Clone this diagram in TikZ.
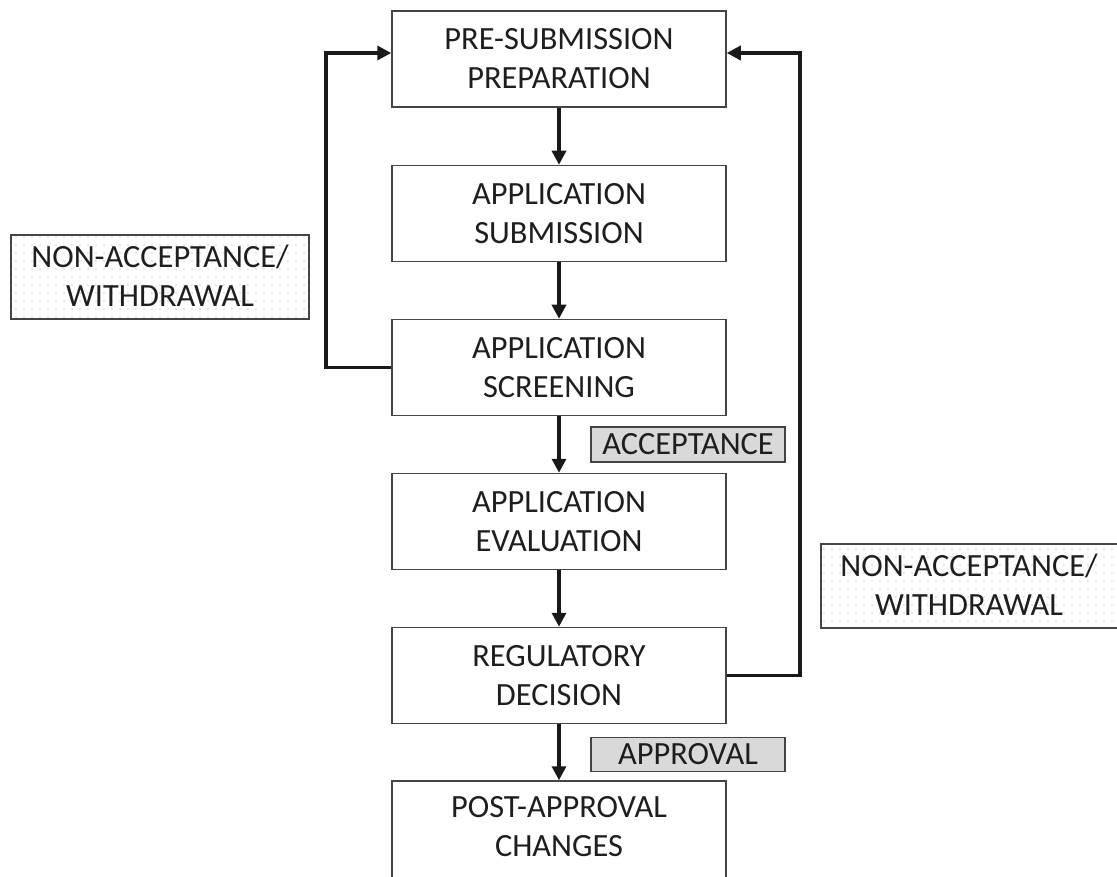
\documentclass[tikz,border=0pt]{standalone}
\usepackage{fontspec}
\setmainfont{Carlito}
\usetikzlibrary{arrows.meta,patterns.meta}
\definecolor{edge}{HTML}{454545}
\definecolor{ink}{HTML}{1E1E1E}
\definecolor{tag}{HTML}{D9D9D9}
\newcommand{\labelfont}{\fontsize{32.4}{39}\selectfont}
\tikzset{
  stage/.style={draw=edge, line width=1.5pt, fill=white, rectangle,
    minimum width=334pt, minimum height=96pt, inner sep=0pt,
    align=center, text=ink, font=\labelfont},
  txt/.style={align=center, text=ink, font=\labelfont, inner sep=0pt},
  tagbox/.style={draw=edge, line width=1.5pt, fill=tag, rectangle,
    minimum width=194pt, minimum height=35pt, inner sep=0pt,
    text=ink, font=\labelfont},
  dotbox/.style={draw=edge, line width=1.5pt, rectangle,
    pattern={Dots[distance=8pt, radius=0.6pt]}, pattern color=gray!75,
    minimum width=298pt, minimum height=84pt, inner sep=0pt},
  flow/.style={line width=3.4pt, draw=black!90,
    -{Triangle[length=14pt, width=14pt]}},
  loop/.style={line width=3.4pt, draw=black!90, line join=miter,
    -{Triangle[length=14pt, width=14pt]}},
}
\begin{document}
\begin{tikzpicture}[x=1pt, y=-1pt]
  \useasboundingbox (0,0) rectangle (1117,877);
  \clip (0,0) rectangle (1117,877);
  \fill[white] (0,0) rectangle (1117,877);

  % process stages
  \node[stage] (a) at (559,59)    {PRE-SUBMISSION\\PREPARATION};
  \node[stage] (b) at (559,213.5) {APPLICATION\\SUBMISSION};
  \node[stage] (c) at (559,367.5) {APPLICATION\\SCREENING};
  \node[stage] (d) at (559,521.5) {APPLICATION\\EVALUATION};
  \node[stage] (e) at (559,675.5) {REGULATORY\\DECISION};
  \node[stage, minimum height=110pt] (f) at (559,836) {};
  \node[txt] (ft) at (559,826.5) {POST-APPROVAL\\CHANGES};

  % outcome tags
  \node[tagbox] (acc) at (688,444.5) {ACCEPTANCE};
  \node[tagbox, minimum height=34pt] (app) at (688,754.5) {APPROVAL};

  % withdrawal notes
  \node[dotbox] (wl) at (160,277) {};
  \node[txt] at (160,275.5) {NON-ACCEPTANCE/\\WITHDRAWAL};
  \node[dotbox, minimum width=297pt] (wr) at (969.5,586) {};
  \node[txt] at (969,584.5) {NON-ACCEPTANCE/\\WITHDRAWAL};

  % main flow
  \draw[flow] (a.south) -- (b.north);
  \draw[flow] (b.south) -- (c.north);
  \draw[flow] (c.south) -- (d.north);
  \draw[flow] (d.south) -- (e.north);
  \draw[flow] (e.south) -- (f.north);

  % feedback loops
  \coordinate (lt) at (326,53);
  \coordinate (rt) at (800,53);
  \draw[loop] (c.west) -| (lt) -- ([yshift=6pt]a.west);
  \draw[loop] (e.east) -| (rt) -- ([yshift=6pt]a.east);
\end{tikzpicture}
\end{document}
